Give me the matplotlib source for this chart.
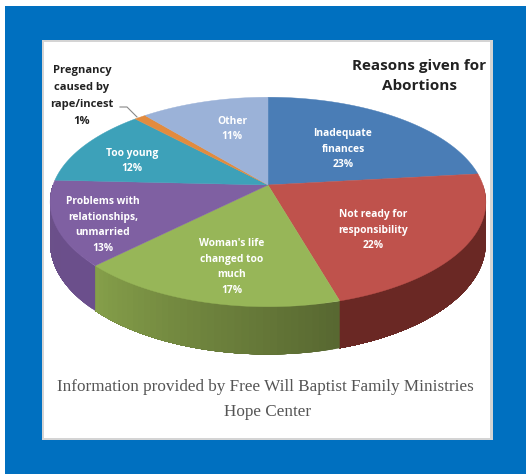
# 3D-look pie: reasons given for abortions
import numpy as np
import matplotlib
matplotlib.use("Agg")
import matplotlib.pyplot as plt
from matplotlib.colors import to_rgb
from matplotlib.patches import Rectangle

labels = ["Inadequate\nfinances", "Not ready for\nresponsibility", "Woman's life\nchanged too\nmuch",
          "Problems with\nrelationships,\nunmarried", "Too young", "Pregnancy\ncaused by\nrape/incest", "Other"]
values = [23, 22, 17, 13, 12, 1, 11]
top_colors = ["#4a7db6", "#bf524c", "#97b658", "#7f60a2", "#3da1b9", "#e28b3e", "#9bb2d8"]
wall_colors = ["#35587f", "#6a2824", "#86a04a", "#6b5088", "#2c7689", "#a8652c", "#6f80a0"]
wall_dark = ["#35587f", "#6a2824", "#586831", "#6b4f8c", "#2c7689", "#a8652c", "#6f80a0"]

# pixel geometry of the tilted disc
cx, cy = 268, 185
a, b, k, depth = 215, 102, 0.162, 40


def project(ang, r=1.0, z=0.0):
    # ang is degrees clockwise from 12 o'clock
    t = np.radians(ang)
    X = r * np.sin(t)
    Y = r * np.cos(t)
    w = 1 + k * Y
    return cx + a * X / w, cy + (-b * Y + depth * z) / w


fig = plt.figure(figsize=(5.26, 4.74), dpi=100)
ax = fig.add_axes([0, 0, 1, 1])
ax.set_xlim(0, 526)
ax.set_ylim(474, 0)
ax.axis("off")

# frame
ax.add_patch(Rectangle((5, 6), 521, 468, color="#0070c0", lw=0, zorder=0))
ax.add_patch(Rectangle((42, 40), 451, 400, color="#d4d4d4", lw=0, zorder=1))
ax.add_patch(Rectangle((44, 42), 446, 396, color="white", lw=0, zorder=2))

edges = 360 * np.cumsum([0] + values) / sum(values)

# side walls, front half only; neighbouring quads overlap so no seams show
for i in range(len(values)):
    a0, a1 = edges[i], edges[i + 1]
    lo, hi = max(a0, 90), min(a1, 270)
    if hi <= lo:
        continue
    steps = np.linspace(lo, hi, 40)
    c0 = np.array(to_rgb(wall_colors[i]))
    c1 = np.array(to_rgb(wall_dark[i]))
    for j in range(len(steps) - 1):
        s = (a1 - steps[j]) / (a1 - a0)  # 0 at the clockwise end
        col = c0 * (1 - s) + c1 * s
        arc = np.linspace(steps[j], hi, 40 - j)
        xt, yt = project(arc)
        xl, yl = project(arc[::-1], z=1)
        ax.fill(np.r_[xt, xl], np.r_[yt, yl], color=col, lw=0, zorder=3)

# top faces
for i in range(len(values)):
    angs = np.linspace(edges[i], edges[i + 1], 80)
    xs, ys = project(angs)
    ax.fill(np.r_[cx, xs], np.r_[cy, ys], color=top_colors[i], lw=0.3, zorder=4)

# slice labels
label_xy = [(343, 149), (373, 230), (232, 267), (103, 225), (132, 161), (82, 96), (232, 129)]
label_size = [7.4, 7.4, 7.4, 7.4, 7.4, 8.0, 7.4]
label_gap = [1.56, 1.56, 1.56, 1.56, 1.56, 1.74, 1.56]
pct = [str(v) + "%" for v in values]
for i in range(len(values)):
    col = "#222222" if i == 5 else "white"
    ax.text(label_xy[i][0], label_xy[i][1], labels[i] + "\n" + pct[i], color=col, fontsize=label_size[i],
            family="Open Sans", weight="bold", ha="center", va="center", linespacing=label_gap[i], zorder=6)

# leader for the 1% slice
ax.plot([120, 127, 137], [107, 107, 117], color="#888888", lw=0.8, zorder=5)

ax.text(419, 76, "Reasons given for\nAbortions", fontsize=11, family="Open Sans", weight="bold",
        color="#222222", ha="center", va="center", linespacing=1.6, zorder=6)
ax.text(265, 387, "Information provided by Free Will Baptist Family Ministries", fontsize=12.3,
        family="Liberation Serif", color="#555555", ha="center", va="center", zorder=6)
ax.text(268, 412, "Hope Center", fontsize=12.3, family="Liberation Serif", color="#555555",
        ha="center", va="center", zorder=6)

fig.savefig("out.png", dpi=100)
